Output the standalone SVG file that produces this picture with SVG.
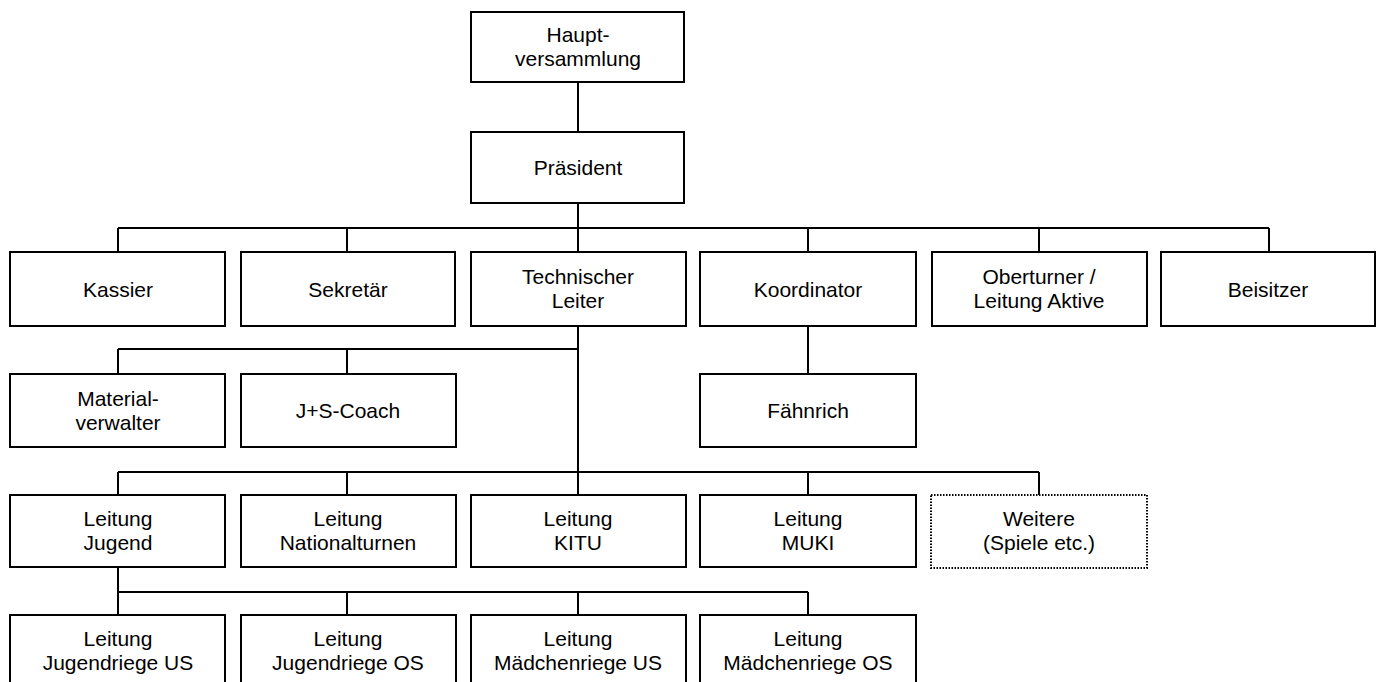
<svg xmlns="http://www.w3.org/2000/svg" width="1383" height="682" viewBox="0 0 1383 682">
<style>
.box{fill:#fff;stroke:#000;stroke-width:2}
.dot{fill:#fff;stroke:#000;stroke-width:2;stroke-dasharray:1.5 1.5}
.t{font-family:"Liberation Sans",Arial,sans-serif;font-size:21px;fill:#000;text-anchor:middle}
.ln{fill:none;stroke:#000;stroke-width:2}
</style>
<rect width="1383" height="682" fill="#fff"/>
<g id="connectors" class="ln">
<path d="M578 82V132"/>
<path d="M578 203V228M118 228H1269M118 228V252M347 228V252M578 228V252M808 228V252M1039 228V252M1269 228V252"/>
<path d="M578 326V472M118 349H578M118 349V374M347 349V374"/>
<path d="M808 326V374"/>
<path d="M118 472H1039M118 472V495M347 472V495M578 472V495M808 472V495M1039 472V495"/>
<path d="M118 567V615M118 592H808M347 592V615M578 592V615M808 592V615"/>
</g>
<g id="hauptversammlung"><rect class="box" x="471" y="12" width="213" height="70"/><text class="t" x="578" y="42">Haupt-</text><text class="t" x="578" y="66">versammlung</text></g>
<g id="praesident"><rect class="box" x="471" y="132" width="213" height="71"/><text class="t" x="578" y="175">Präsident</text></g>
<g id="kassier"><rect class="box" x="10" y="252" width="215" height="74"/><text class="t" x="118" y="297">Kassier</text></g>
<g id="sekretaer"><rect class="box" x="241" y="252" width="214" height="74"/><text class="t" x="348" y="297">Sekretär</text></g>
<g id="technischer-leiter"><rect class="box" x="471" y="252" width="215" height="74"/><text class="t" x="578" y="284">Technischer</text><text class="t" x="578" y="308">Leiter</text></g>
<g id="koordinator"><rect class="box" x="700" y="252" width="216" height="74"/><text class="t" x="808" y="297">Koordinator</text></g>
<g id="oberturner"><rect class="box" x="932" y="252" width="215" height="74"/><text class="t" x="1039" y="284">Oberturner /</text><text class="t" x="1039" y="308">Leitung Aktive</text></g>
<g id="beisitzer"><rect class="box" x="1161" y="252" width="214" height="74"/><text class="t" x="1268" y="297">Beisitzer</text></g>
<g id="materialverwalter"><rect class="box" x="10" y="374" width="215" height="73"/><text class="t" x="118" y="406">Material-</text><text class="t" x="118" y="430">verwalter</text></g>
<g id="js-coach"><rect class="box" x="241" y="374" width="215" height="73"/><text class="t" x="348" y="418">J+S-Coach</text></g>
<g id="faehnrich"><rect class="box" x="700" y="374" width="216" height="73"/><text class="t" x="808" y="418">Fähnrich</text></g>
<g id="leitung-jugend"><rect class="box" x="10" y="495" width="215" height="72"/><text class="t" x="118" y="526">Leitung</text><text class="t" x="118" y="550">Jugend</text></g>
<g id="leitung-nationalturnen"><rect class="box" x="241" y="495" width="215" height="72"/><text class="t" x="348" y="526">Leitung</text><text class="t" x="348" y="550">Nationalturnen</text></g>
<g id="leitung-kitu"><rect class="box" x="471" y="495" width="215" height="72"/><text class="t" x="578" y="526">Leitung</text><text class="t" x="578" y="550">KITU</text></g>
<g id="leitung-muki"><rect class="box" x="700" y="495" width="216" height="72"/><text class="t" x="808" y="526">Leitung</text><text class="t" x="808" y="550">MUKI</text></g>
<g id="weitere"><rect class="dot" x="931" y="495" width="216" height="73"/><text class="t" x="1039" y="526">Weitere</text><text class="t" x="1039" y="550">(Spiele etc.)</text></g>
<g id="jugendriege-us"><rect class="box" x="10" y="615" width="215" height="75"/><text class="t" x="118" y="646">Leitung</text><text class="t" x="118" y="670">Jugendriege US</text></g>
<g id="jugendriege-os"><rect class="box" x="241" y="615" width="215" height="75"/><text class="t" x="348" y="646">Leitung</text><text class="t" x="348" y="670">Jugendriege OS</text></g>
<g id="maedchenriege-us"><rect class="box" x="471" y="615" width="215" height="75"/><text class="t" x="578" y="646">Leitung</text><text class="t" x="578" y="670">Mädchenriege US</text></g>
<g id="maedchenriege-os"><rect class="box" x="700" y="615" width="216" height="75"/><text class="t" x="808" y="646">Leitung</text><text class="t" x="808" y="670">Mädchenriege OS</text></g>
</svg>
